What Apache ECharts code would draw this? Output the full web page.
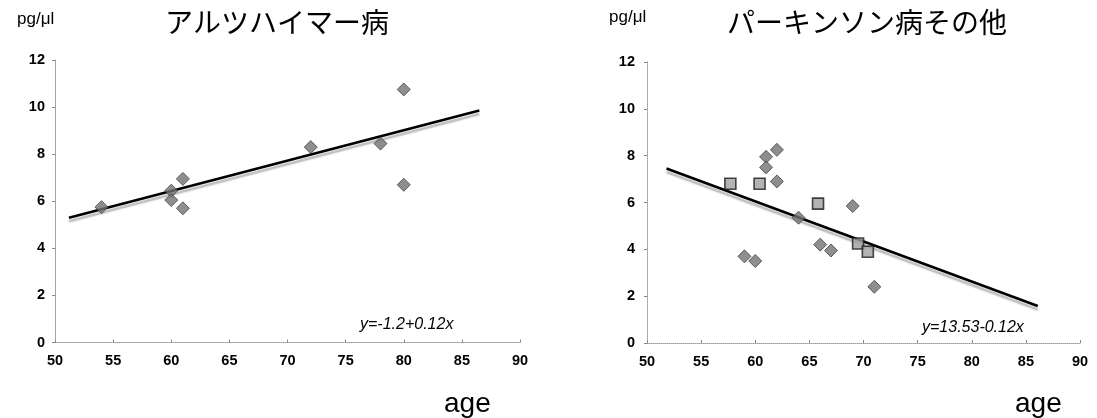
<!DOCTYPE html>
<html><head><meta charset="utf-8">
<script src="https://cdn.jsdelivr.net/npm/echarts@6/dist/echarts.min.js"></script>
<style>html,body{margin:0;padding:0;background:#fff}#c{width:1097px;height:418px}</style>
</head><body><div id="c"></div>
<script>
// ---- data ----
const xTicks = [50, 55, 60, 65, 70, 75, 80, 85, 90];
const yTicks = [0, 2, 4, 6, 8, 10, 12];
const alzPoints = [[54,5.75],[60,6.45],[60,6.05],[61,6.95],[61,5.7],[72,8.3],[78,8.45],[80,10.75],[80,6.7]];
const alzTrend = [[51.2,5.3],[86.5,9.85]];
const parkDiamonds = [[61,7.95],[61,7.5],[62,8.25],[62,6.9],[59,3.7],[60,3.5],[64,5.35],[66,4.2],[67,3.95],[69,5.85],[71,2.4]];
const parkSquares = [[57.7,6.8],[60.4,6.8],[65.8,5.95],[69.5,4.25],[70.4,3.9]];
const parkTrend = [[51.8,7.45],[86.1,1.58]];
const titles = ['アルツハイマー病', 'パーキンソン病その他'];
const equations = ['y=-1.2+0.12x', 'y=13.53-0.12x'];
const unitLabel = 'pg/μl';
const xName = 'age';

const tickFont = {fontFamily:'Liberation Sans', fontWeight:'bold', fontSize:14.5, color:'#000'};
function xAxis(idx){
  return {gridIndex:idx, type:'value', min:xTicks[0], max:xTicks[xTicks.length-1], interval:xTicks[1]-xTicks[0],
    axisLine:{show:true, lineStyle:{color:'#999', type:'dotted', width:1}},
    axisTick:{show:true, inside:true, length:3, lineStyle:{color:'#888'}},
    splitLine:{show:false},
    axisLabel:Object.assign({margin:11}, tickFont)};
}
function yAxis(idx, m){
  return {gridIndex:idx, type:'value', min:yTicks[0], max:yTicks[yTicks.length-1], interval:yTicks[1]-yTicks[0],
    axisLine:{show:true, lineStyle:{color:'#999', type:'dotted', width:1}},
    axisTick:{show:true, length:3, lineStyle:{color:'#888'}},
    splitLine:{show:false},
    axisLabel:Object.assign({margin:m}, tickFont)};
}
const trendStyle = {color:'#000', width:2.6, shadowColor:'rgba(0,0,0,0.28)', shadowOffsetY:3.5, shadowOffsetX:0, shadowBlur:1.5};
const diamondStyle = {color:'#727272', borderColor:'#444', borderWidth:1};
const squareStyle = {color:'#a0a0a0', borderColor:'#1a1a1a', borderWidth:1.6};

const chart = echarts.init(document.getElementById('c'));
chart.setOption({
  animation:false,
  backgroundColor:'#fff',
  title:[
    {text:titles[0], left:272, top:3, textAlign:'center', textStyle:{fontFamily:'Noto Sans CJK JP', fontWeight:'normal', fontSize:28, color:'#000'}},
    {text:titles[1], left:862, top:3, textAlign:'center', textStyle:{fontFamily:'Noto Sans CJK JP', fontWeight:'normal', fontSize:28, color:'#000'}},
    {text:unitLabel, left:12, top:6, textStyle:{fontFamily:'Liberation Sans', fontWeight:'normal', fontSize:17, color:'#000'}},
    {text:unitLabel, left:604, top:4, textStyle:{fontFamily:'Liberation Sans', fontWeight:'normal', fontSize:17, color:'#000'}},
    {text:xName, left:439, top:385, textStyle:{fontFamily:'Liberation Sans', fontWeight:'normal', fontSize:28, color:'#000'}},
    {text:xName, left:1010, top:385, textStyle:{fontFamily:'Liberation Sans', fontWeight:'normal', fontSize:28, color:'#000'}},
    {text:equations[0], left:355, top:312, textStyle:{fontFamily:'Liberation Sans', fontStyle:'italic', fontWeight:'normal', fontSize:16, color:'#000'}},
    {text:equations[1], left:917, top:315, textStyle:{fontFamily:'Liberation Sans', fontStyle:'italic', fontWeight:'normal', fontSize:16, color:'#000'}}
  ],
  grid:[
    {left:55, right:1097-520, top:60, bottom:418-342.5},
    {left:647, right:1097-1080, top:62, bottom:418-343}
  ],
  xAxis:[xAxis(0), xAxis(1)],
  yAxis:[yAxis(0,10), yAxis(1,12)],
  series:[
    {type:'line', xAxisIndex:0, yAxisIndex:0, data:alzTrend, symbol:'none', lineStyle:trendStyle, z:2},
    {type:'scatter', xAxisIndex:0, yAxisIndex:0, data:alzPoints, symbol:'diamond', symbolSize:13, itemStyle:diamondStyle, z:3},
    {type:'line', xAxisIndex:1, yAxisIndex:1, data:parkTrend, symbol:'none', lineStyle:trendStyle, z:2},
    {type:'scatter', xAxisIndex:1, yAxisIndex:1, data:parkDiamonds, symbol:'diamond', symbolSize:13, itemStyle:diamondStyle, z:3},
    {type:'scatter', xAxisIndex:1, yAxisIndex:1, data:parkSquares, symbol:'rect', symbolSize:11, itemStyle:squareStyle, z:3}
  ]
});
</script></body></html>
